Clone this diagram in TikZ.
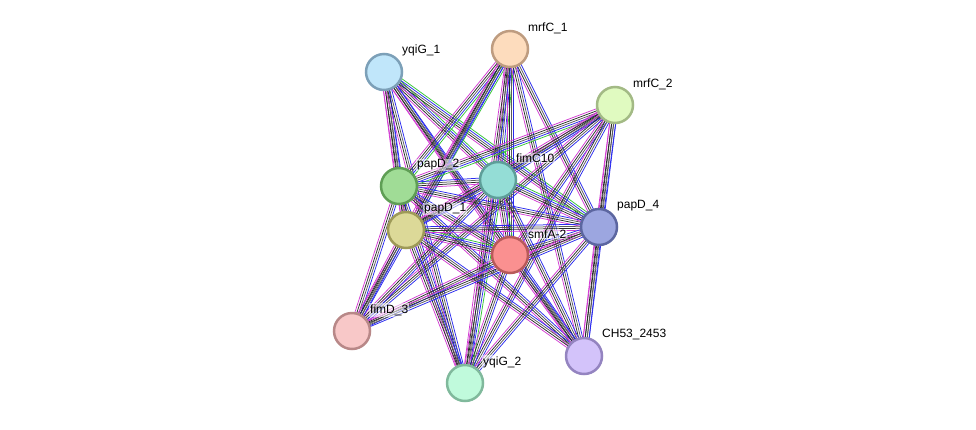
\documentclass[tikz,border=0pt]{standalone}
\usepackage{fontspec}
\setmainfont{Liberation Sans}
\usepackage{tikz}
\usetikzlibrary{calc,backgrounds}

\definecolor{linkmag}{HTML}{D23CD2}
\definecolor{linkblue}{HTML}{2B2BEE}
\definecolor{linkblack}{HTML}{2A2A2A}
\definecolor{linkgray}{HTML}{5A5A5A}
\definecolor{linkgreen}{HTML}{35C435}

\tikzset{
  prot/.style={circle, draw, line width=2.5pt, minimum size=36pt, inner sep=0pt},
  lbl/.style={anchor=west, inner sep=1pt, fill=white, fill opacity=0.55, text opacity=1,
              font=\fontsize{12}{14}\selectfont},
  ev/.style={line width=0.75pt},
}

% one evidence line of a link, shifted sideways by #3
\newcommand{\evline}[4]{\draw[ev,#4] ($(#1.center)!#3!90:(#2.center)$) -- ($(#2.center)!#3!-90:(#1.center)$);}
% a whole link: four lines, plus green if #3=1
\newcommand{\evlink}[3]{%
  \evline{#1}{#2}{-3pt}{linkmag}
  \evline{#1}{#2}{-1pt}{linkblack}
  \evline{#1}{#2}{1pt}{linkgray}
  \evline{#1}{#2}{3pt}{linkblue}
  \ifnum#3=1 \evline{#1}{#2}{5pt}{linkgreen}\fi}

\begin{document}
\begin{tikzpicture}[x=1pt,y=-1pt]
    \useasboundingbox (0,0) rectangle (976,429);

    % proteins
    \node[prot, fill={rgb,255:red,192;green,230;blue,250}, draw={rgb,255:red,124;green,160;blue,184}] (yqiG1) at (384,72) {};
    \node[prot, fill={rgb,255:red,253;green,220;blue,189}, draw={rgb,255:red,190;green,156;blue,128}] (mrfC1) at (510,49) {};
    \node[prot, fill={rgb,255:red,224;green,250;blue,192}, draw={rgb,255:red,163;green,186;blue,133}] (mrfC2) at (615,105) {};
    \node[prot, fill={rgb,255:red,160;green,220;blue,150}, draw={rgb,255:red,95;green,158;blue,85}] (papD2) at (399,186) {};
    \node[prot, fill={rgb,255:red,148;green,221;blue,214}, draw={rgb,255:red,94;green,158;blue,153}] (fimC10) at (498,180) {};
    \node[prot, fill={rgb,255:red,220;green,217;blue,152}, draw={rgb,255:red,158;green,154;blue,88}] (papD1) at (406,230) {};
    \node[prot, fill={rgb,255:red,250;green,144;blue,144}, draw={rgb,255:red,184;green,90;blue,90}] (smfA2) at (510,255) {};
    \node[prot, fill={rgb,255:red,156;green,166;blue,224}, draw={rgb,255:red,92;green,102;blue,160}] (papD4) at (599,227) {};
    \node[prot, fill={rgb,255:red,248;green,200;blue,200}, draw={rgb,255:red,184;green,136;blue,136}] (fimD3) at (352,331) {};
    \node[prot, fill={rgb,255:red,211;green,195;blue,250}, draw={rgb,255:red,148;green,132;blue,192}] (CH53) at (584,356) {};
    \node[prot, fill={rgb,255:red,192;green,250;blue,220}, draw={rgb,255:red,128;green,185;blue,156}] (yqiG2) at (465,383) {};

    % names
    \node[lbl] (yqiG1-lab) at ($(yqiG1)+(17,-22)$) {yqiG\_1};
    \node[lbl] (mrfC1-lab) at ($(mrfC1)+(17,-21)$) {mrfC\_1};
    \node[lbl] (mrfC2-lab) at ($(mrfC2)+(17,-21)$) {mrfC\_2};
    \node[lbl] (papD2-lab) at ($(papD2)+(17,-21)$) {papD\_2};
    \node[lbl] (fimC10-lab) at ($(fimC10)+(17,-22)$) {fimC10};
    \node[lbl] (papD1-lab) at ($(papD1)+(17,-21)$) {papD\_1};
    \node[lbl] (smfA2-lab) at ($(smfA2)+(17,-21)$) {smfA-2};
    \node[lbl] (papD4-lab) at ($(papD4)+(17,-21)$) {papD\_4};
    \node[lbl] (fimD3-lab) at ($(fimD3)+(17,-21)$) {fimD\_3};
    \node[lbl] (CH53-lab) at ($(CH53)+(17,-22)$) {CH53\_2453};
    \node[lbl] (yqiG2-lab) at ($(yqiG2)+(17,-21)$) {yqiG\_2};

    % links
    \begin{scope}[on background layer]
    \foreach \a/\b/\g in {
        yqiG1/papD2/0, yqiG1/papD1/0, yqiG1/fimC10/1, yqiG1/smfA2/0, yqiG1/papD4/1,
        yqiG1/CH53/0, yqiG1/yqiG2/0,
        mrfC1/papD2/1, mrfC1/fimC10/1, mrfC1/papD1/1, mrfC1/smfA2/0, mrfC1/papD4/0,
        mrfC1/fimD3/0, mrfC1/CH53/0, mrfC1/yqiG2/0,
        mrfC2/papD2/1, mrfC2/fimC10/0, mrfC2/papD1/0, mrfC2/smfA2/0, mrfC2/papD4/0,
        mrfC2/fimD3/0, mrfC2/CH53/0, mrfC2/yqiG2/0,
        papD2/fimC10/0, papD2/papD1/0, papD2/smfA2/0, papD2/papD4/0, papD2/fimD3/0,
        papD2/CH53/0, papD2/yqiG2/0,
        fimC10/papD1/0, fimC10/smfA2/1, fimC10/papD4/1, fimC10/fimD3/0, fimC10/CH53/0,
        fimC10/yqiG2/1,
        papD1/smfA2/1, papD1/papD4/0, papD1/fimD3/0, papD1/CH53/0, papD1/yqiG2/0,
        smfA2/papD4/0, smfA2/fimD3/0, smfA2/CH53/0, smfA2/yqiG2/0,
        papD4/fimD3/0, papD4/CH53/0, papD4/yqiG2/0}
        {\evlink{\a}{\b}{\g}}
    \end{scope}
\end{tikzpicture}
\end{document}
